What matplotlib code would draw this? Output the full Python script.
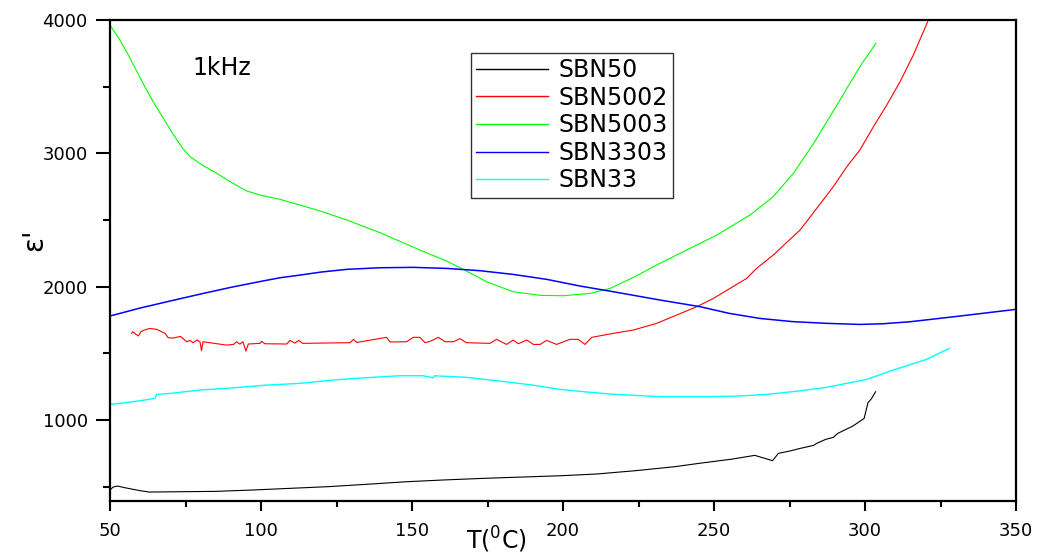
import numpy as np
import matplotlib
matplotlib.use('Agg')
import matplotlib.pyplot as plt
from matplotlib.ticker import MultipleLocator

plt.rcParams['font.family'] = ['DejaVu Sans']
plt.rcParams['mathtext.fontset'] = 'dejavusans'

# SBN50 (black)
t_sbn50 = [50.0, 51.0, 52.5, 55, 60, 63, 72, 85, 97, 110, 122, 135, 148, 160, 173, 186,
           199, 211, 224, 237, 245, 256, 263.5, 269.4, 271.3, 275, 278.5, 283, 284,
           287, 289.5, 291, 296, 299.7, 301, 302.2, 303.5]
e_sbn50 = [475, 497, 505, 492, 470, 460, 462, 465, 475, 488, 500, 518, 537, 550, 562, 572,
           582, 595, 620, 650, 675, 707, 735, 695, 750, 767, 787, 810, 825,
           855, 870, 900, 955, 1012, 1130, 1162, 1212]

# SBN5002 (red)
t_sbn5002 = [57.2, 57.5, 58.5, 59.4, 60.2, 61, 62.1, 63.2, 65.5, 68.2, 69.3, 71, 73.3, 74.5,
             75.4, 76.5, 77.5, 78.9, 79.8, 80.3, 80.8, 88.6, 90.9, 91.9, 93, 94, 95, 95.8,
             99.7, 100.2, 101.3, 108.5, 109.6, 111.2, 112.5, 113.8, 129.5, 130.6, 131.7,
             141.6, 142.7, 148.2, 150.4, 152.6, 154.3, 156, 158.7, 161, 163.7, 165.9, 168,
             175.8, 178, 181.3, 183.5, 185.2, 188, 190.2, 192.4, 194.6, 197.9, 202.3, 205,
             207.3, 209.5, 216.7, 223.3, 231, 237.6, 244.3, 249.8, 260.8, 264.1, 269.6,
             278.5, 284, 289.5, 294, 298.3, 302.8, 307.2, 311.6, 316, 321, 322.5]
e_sbn5002 = [1650, 1662, 1645, 1630, 1662, 1672, 1680, 1687, 1680, 1650, 1617, 1615, 1627, 1605,
             1587, 1597, 1580, 1600, 1585, 1520, 1587, 1562, 1567, 1587, 1570, 1587, 1517, 1570,
             1575, 1590, 1572, 1570, 1597, 1577, 1597, 1575, 1580, 1605, 1582,
             1620, 1585, 1587, 1620, 1620, 1580, 1590, 1620, 1587, 1587, 1610, 1580,
             1575, 1605, 1567, 1600, 1572, 1600, 1567, 1567, 1597, 1567, 1605, 1605,
             1567, 1620, 1650, 1675, 1725, 1787, 1850, 1912, 2062, 2137, 2237,
             2425, 2587, 2750, 2900, 3025, 3200, 3362, 3537, 3737, 4000, 4080]

# SBN5003 (green)
t_sbn5003 = [50, 53, 56, 59, 62, 65, 68, 71, 74, 76.5, 80, 85, 90, 95, 100, 106.3,
             112.9, 120, 128.4, 139.4, 152.6, 161.5, 167, 174.7, 183.5, 192.4, 200.1, 209,
             215.6, 223.3, 232.1, 236.5, 250.9, 261.9, 269.6, 276.3, 283, 291.7, 298.3, 303.6]
e_sbn5003 = [3962, 3860, 3740, 3610, 3480, 3360, 3250, 3140, 3040, 2975, 2920, 2855, 2785, 2720,
             2685, 2655, 2612, 2565, 2500, 2405, 2275, 2192, 2130, 2037, 1962, 1935, 1932, 1950,
             1987, 2070, 2175, 2225, 2387, 2537, 2675, 2850, 3075, 3400, 3650, 3825]

# SBN3303 (blue)
t_sbn3303 = [50, 60, 70, 80, 90, 100, 106.3, 112.9, 120, 128.4, 139.4, 150.4, 161.5, 172.5,
             183.5, 194.6, 205.6, 216.7, 232.1, 245.4, 255, 265.2, 276, 287.3, 298.3, 306,
             314.9, 331.5, 350]
e_sbn3303 = [1780, 1840, 1893, 1945, 1995, 2040, 2067, 2087, 2110, 2130, 2142, 2145, 2137, 2120,
             2092, 2055, 2005, 1962, 1900, 1850, 1800, 1762, 1738, 1725, 1717, 1722,
             1737, 1780, 1830]

# SBN33 (cyan)
t_sbn33 = [50, 55, 60, 64.9, 65.4, 70, 79.8, 90, 101.9, 112.9, 123.9, 135, 146, 153.7, 157,
           157.4, 168.1, 179.1, 190, 199, 207, 215.6, 232.1, 248.7, 258, 267.4, 277, 287.3,
           300.6, 309.4, 320.4, 327.9]
e_sbn33 = [1117, 1130, 1145, 1162, 1192, 1200, 1225, 1240, 1262, 1275, 1300, 1318, 1332, 1332, 1317,
           1332, 1320, 1292, 1262, 1230, 1212, 1195, 1175, 1175, 1180, 1192, 1215, 1245,
           1305, 1375, 1455, 1537]

W, H = 1042, 556
fig = plt.figure(figsize=(W / 100, H / 100), dpi=100)
ax = fig.add_axes([110 / W, 1 - 500.7 / H, 906 / W, 480.7 / H])

ax.plot(t_sbn50, e_sbn50, color='black', lw=0.8, label='SBN50')
ax.plot(t_sbn5002, e_sbn5002, color='#ff0000', lw=0.8, label='SBN5002')
ax.plot(t_sbn5003, e_sbn5003, color='#00ff00', lw=0.8, label='SBN5003')
ax.plot(t_sbn3303, e_sbn3303, color='#0000ff', lw=1.1, label='SBN3303')
ax.plot(t_sbn33, e_sbn33, color='#00ffff', lw=1.0, label='SBN33')

ax.set_xlim(50, 350)
ax.set_ylim(395, 4000)
ax.xaxis.set_major_locator(MultipleLocator(50))
ax.xaxis.set_minor_locator(MultipleLocator(25))
ax.yaxis.set_major_locator(MultipleLocator(1000))
ax.yaxis.set_minor_locator(MultipleLocator(500))
ax.set_yticks([1000, 2000, 3000, 4000])

for s in ax.spines.values():
    s.set_linewidth(1.6)
ax.tick_params(axis='both', which='both', direction='out', width=1.5, labelsize=13,
               top=False, right=False)
ax.tick_params(axis='x', which='major', length=7, pad=8)
ax.tick_params(axis='x', which='minor', length=4)
ax.tick_params(axis='y', which='major', length=10, pad=6)
ax.tick_params(axis='y', which='minor', length=5)

ax.set_xlabel('T($^0$C)', fontsize=17)
ax.xaxis.set_label_coords((496 - 110) / 906, -(540 - 500.7) / 480.7)
ax.xaxis.label.set_va('center')
ax.set_ylabel("ε'", fontsize=20)
ax.yaxis.set_label_coords(-(110 - 34) / 906, (500.7 - 240) / 480.7)
ax.yaxis.label.set_va('center')

ax.text((192 - 110) / 906, (500.7 - 68) / 480.7, '1kHz', transform=ax.transAxes,
        fontsize=17, ha='left', va='center')

leg = ax.legend(loc='upper left', bbox_to_anchor=(471 / W, 1 - 53 / H),
                bbox_transform=fig.transFigure, borderaxespad=0, fontsize=17,
                fancybox=False, frameon=True, handlelength=3.05, handletextpad=0.45,
                labelspacing=0.15, borderpad=0.22)
leg.get_frame().set_edgecolor('black')
leg.get_frame().set_linewidth(1.0)
for line in leg.get_lines():
    line.set_linewidth(1.0)

fig.savefig('out.png', dpi=100)
